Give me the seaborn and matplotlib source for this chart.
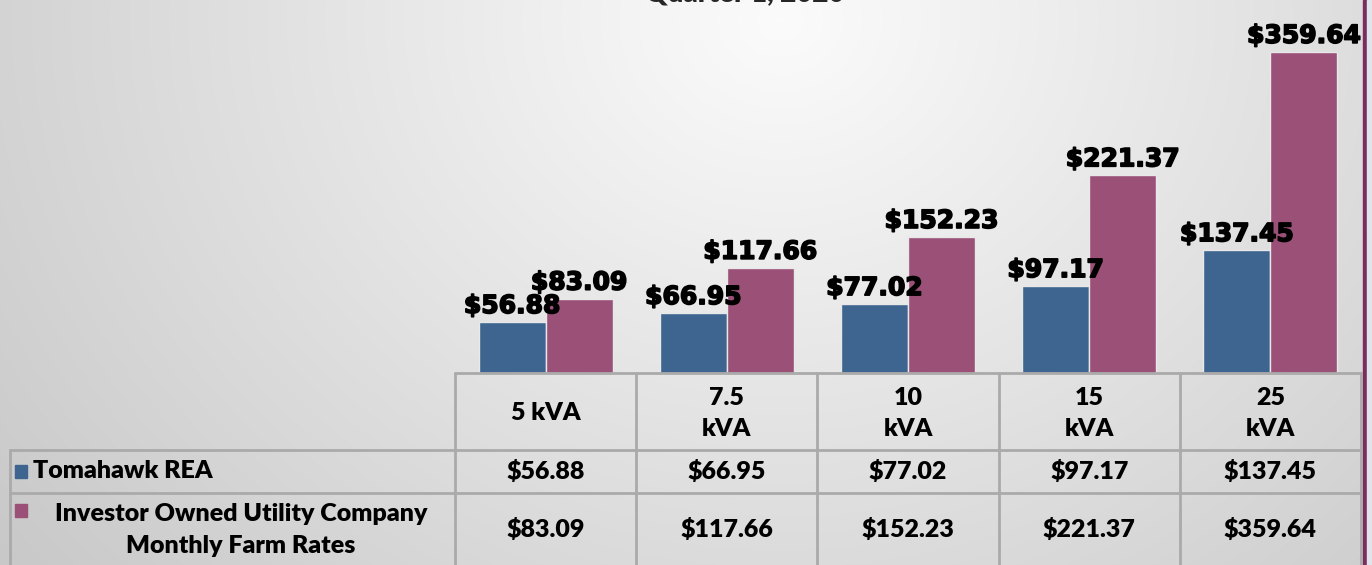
import numpy as np
import pandas as pd
import seaborn as sns
import matplotlib.pyplot as plt
from matplotlib.patches import Rectangle
import matplotlib.patheffects as pe

# chart data
sizes = ["5 kVA", "7.5\nkVA", "10\nkVA", "15\nkVA", "25\nkVA"]
tomahawk = [56.88, 66.95, 77.02, 97.17, 137.45]
investor = [83.09, 117.66, 152.23, 221.37, 359.64]
series = ["Tomahawk REA", "Investor Owned Utility Company\nMonthly Farm Rates"]
colors = ["#3D6590", "#9A5077"]

df = pd.DataFrame({
    "size": sizes * 2,
    "rate": tomahawk + investor,
    "series": [series[0]] * len(sizes) + [series[1]] * len(sizes),
})

sns.set_style("white")
W, H = 1372, 565
fig = plt.figure(figsize=(W / 100, H / 100), dpi=100)

# soft grey background, lighter near the top middle
bg = fig.add_axes([0, 0, 1, 1])
yy, xx = np.mgrid[0:H, 0:W]
d = np.sqrt(((xx - 780) / 750.0) ** 2 + ((yy - 20) / 650.0) ** 2)
shade = np.clip(0.985 - 0.15 * d, 0.78, 1)
bg.imshow(np.dstack([shade] * 3), extent=[0, W, H, 0], aspect="auto")
bg.set_xlim(0, W)
bg.set_ylim(H, 0)
bg.axis("off")

# bar area, pixel box 455..1361 x 0..373
x0, x1, ybase = 455, 1361, 373
ax = fig.add_axes([x0 / W, (H - ybase) / H, (x1 - x0) / W, ybase / H])
sns.barplot(data=df, x="size", y="rate", hue="series", palette=colors,
            saturation=1, width=0.74, edgecolor="#e8e8e8", linewidth=1,
            ax=ax, legend=False)
ax.set_ylim(0, 418)
ax.set_xlim(-0.5, len(sizes) - 0.5)
ax.patch.set_alpha(0)
ax.axis("off")
for cont in ax.containers:
    labels = ax.bar_label(cont, fmt="$%.2f", padding=3, fontsize=18,
                          fontweight="bold", color="black")
    for t in labels:
        t.set_path_effects([pe.withStroke(linewidth=1.2, foreground="black")])

# partially visible title at the very top
fig.text(745 / W, 1 - 6 / H, "Quarter 1, 2020", ha="center", va="bottom",
         fontsize=20, fontweight="heavy", family="Lato")

# data table
tb = fig.add_axes([0, 0, 1, 1])
tb.set_xlim(0, W)
tb.set_ylim(H, 0)
tb.axis("off")
lc, lw = "#aaaaaa", 2
col_w = (x1 - x0) / len(sizes)
rows_y = [373, 450, 493, 575]
for xv in [x0 + i * col_w for i in range(len(sizes) + 1)]:
    tb.plot([xv, xv], [rows_y[0], H], color=lc, lw=lw)
tb.plot([10, 10], [rows_y[1], H], color=lc, lw=lw)
tb.plot([x0, x1], [rows_y[0], rows_y[0]], color=lc, lw=lw)
for yv in rows_y[1:3]:
    tb.plot([10, x1], [yv, yv], color=lc, lw=lw)

font = dict(family="Lato", fontweight="heavy", fontsize=18, color="black")
for i, s in enumerate(sizes):
    cx = x0 + (i + 0.5) * col_w
    tb.text(cx, (rows_y[0] + rows_y[1]) / 2 + 2, s, ha="center", va="center",
            linespacing=1.45, **font)
    tb.text(cx, (rows_y[1] + rows_y[2]) / 2, f"${tomahawk[i]:.2f}",
            ha="center", va="center", **font)
    tb.text(cx, 530, f"${investor[i]:.2f}", ha="center", va="center", **font)

# row headers with legend keys
tb.add_patch(Rectangle((15, 465), 12, 13, color=colors[0]))
tb.text(33, 471.5, series[0], ha="left", va="center", **font)
tb.add_patch(Rectangle((15, 504), 12, 13, color=colors[1]))
tb.text(241, 530, series[1], ha="center", va="center",
        linespacing=1.55, **font)

# right edge accent
tb.add_patch(Rectangle((1363, 0), 4, H, color="#7B2D5E"))
tb.add_patch(Rectangle((1367, 0), 5, H, color="#dfe5ea"))

fig.savefig("out.png", dpi=100)
